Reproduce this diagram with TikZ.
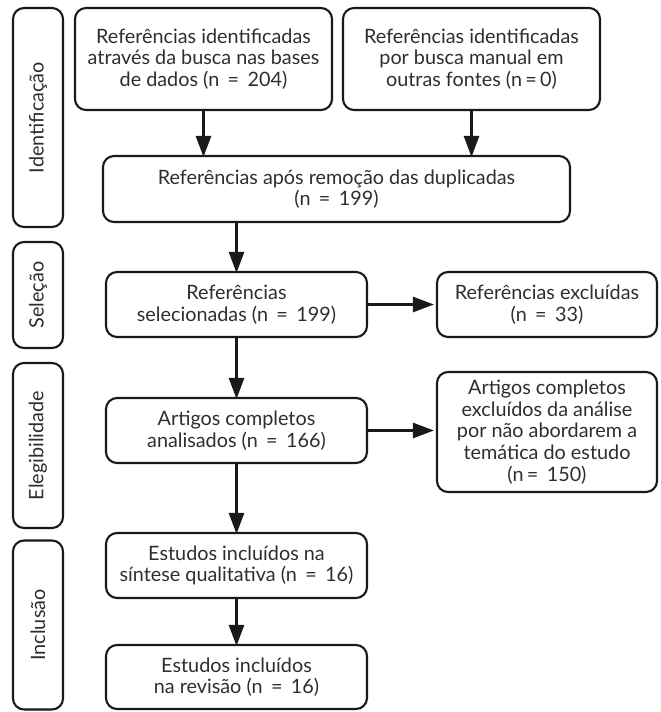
\documentclass[tikz,border=0pt]{standalone}
\usepackage{fontspec}
\setmainfont{Lato}
\usetikzlibrary{arrows.meta}
\begin{document}
\begin{tikzpicture}[x=1pt,y=-1pt,
  txt/.style={text=black!82,font=\fontsize{19.8}{21.6}\selectfont,align=center},
  box/.style={txt,draw=black!90,line width=2.1pt,rounded corners=11pt,inner sep=0pt},
  side/.style={txt,draw=black!90,line width=2.1pt,rounded corners=11pt,inner sep=0pt,minimum width=50pt},
  arr/.style={black!90,line width=2.6pt,-{Triangle[length=21pt,width=15pt]}}]
\useasboundingbox (0,0) rectangle (661,712);
% side bars
\node[side,minimum height=219pt] (s1) at (38,117.5) {};
\node[txt,rotate=90] (t1) at (s1.center) {Identificação};
\node[side,minimum height=106pt] (s2) at (38,295) {};
\node[txt,rotate=90] (t2) at (s2.center) {Seleção};
\node[side,minimum height=165pt] (s3) at (38,445.5) {};
\node[txt,rotate=90] (t3) at (s3.center) {Elegibilidade};
\node[side,minimum height=169pt] (s4) at (38,625) {};
\node[txt,rotate=90] (t4) at (s4.center) {Inclusão};
% boxes
\node[box,minimum width=257pt,minimum height=102pt] (b1) at (203.5,59) {Referências identificadas\\através da busca nas bases\\de dados (n \,=\, 204)};
\node[box,minimum width=257pt,minimum height=102pt] (b2) at (471.5,59) {Referências identificadas\\por busca manual em\\outras fontes (n\,=\,0)};
\node[box,minimum width=467pt,minimum height=66pt] (b3) at (336.5,189) {Referências após remoção das duplicadas\\(n \,=\, 199)};
\node[box,minimum width=261pt,minimum height=65pt] (b4) at (236.5,304.5) {Referências\\selecionadas (n \,=\, 199)};
\node[box,minimum width=220pt,minimum height=65pt] (b5) at (547,304.5) {Referências excluídas\\(n \,=\, 33)};
\node[box,minimum width=261pt,minimum height=65pt] (b6) at (236.5,430.5) {Artigos completos\\analisados (n \,=\, 166)};
\node[box,minimum width=220pt,minimum height=120pt] (b7) at (547,432) {Artigos completos\\excluídos da análise\\por não abordarem a\\temática do estudo\\(n\,= \,150)};
\node[box,minimum width=261pt,minimum height=65pt] (b8) at (236.5,565.5) {Estudos incluídos na\\síntese qualitativa (n \,=\, 16)};
\node[box,minimum width=261pt,minimum height=64pt] (b9) at (236.5,677) {Estudos incluídos\\na revisão (n \,=\, 16)};
% arrows
\draw[arr] (b1.south) -- ([yshift=-2pt]b1.south |- b3.north);
\draw[arr] (b2.south) -- ([yshift=-2pt]b2.south |- b3.north);
\draw[arr] (b3.south -| b4.north) -- ([yshift=-2pt]b4.north);
\draw[arr] (b4.east) -- ([xshift=-2pt]b5.west);
\draw[arr] (b4.south) -- ([yshift=-2pt]b6.north);
\draw[arr] (b6.east) -- ([xshift=-2pt]b6.east -| b7.west);
\draw[arr] (b6.south) -- ([yshift=-2pt]b8.north);
\draw[arr] (b8.south) -- ([yshift=-2pt]b9.north);
\end{tikzpicture}
\end{document}
